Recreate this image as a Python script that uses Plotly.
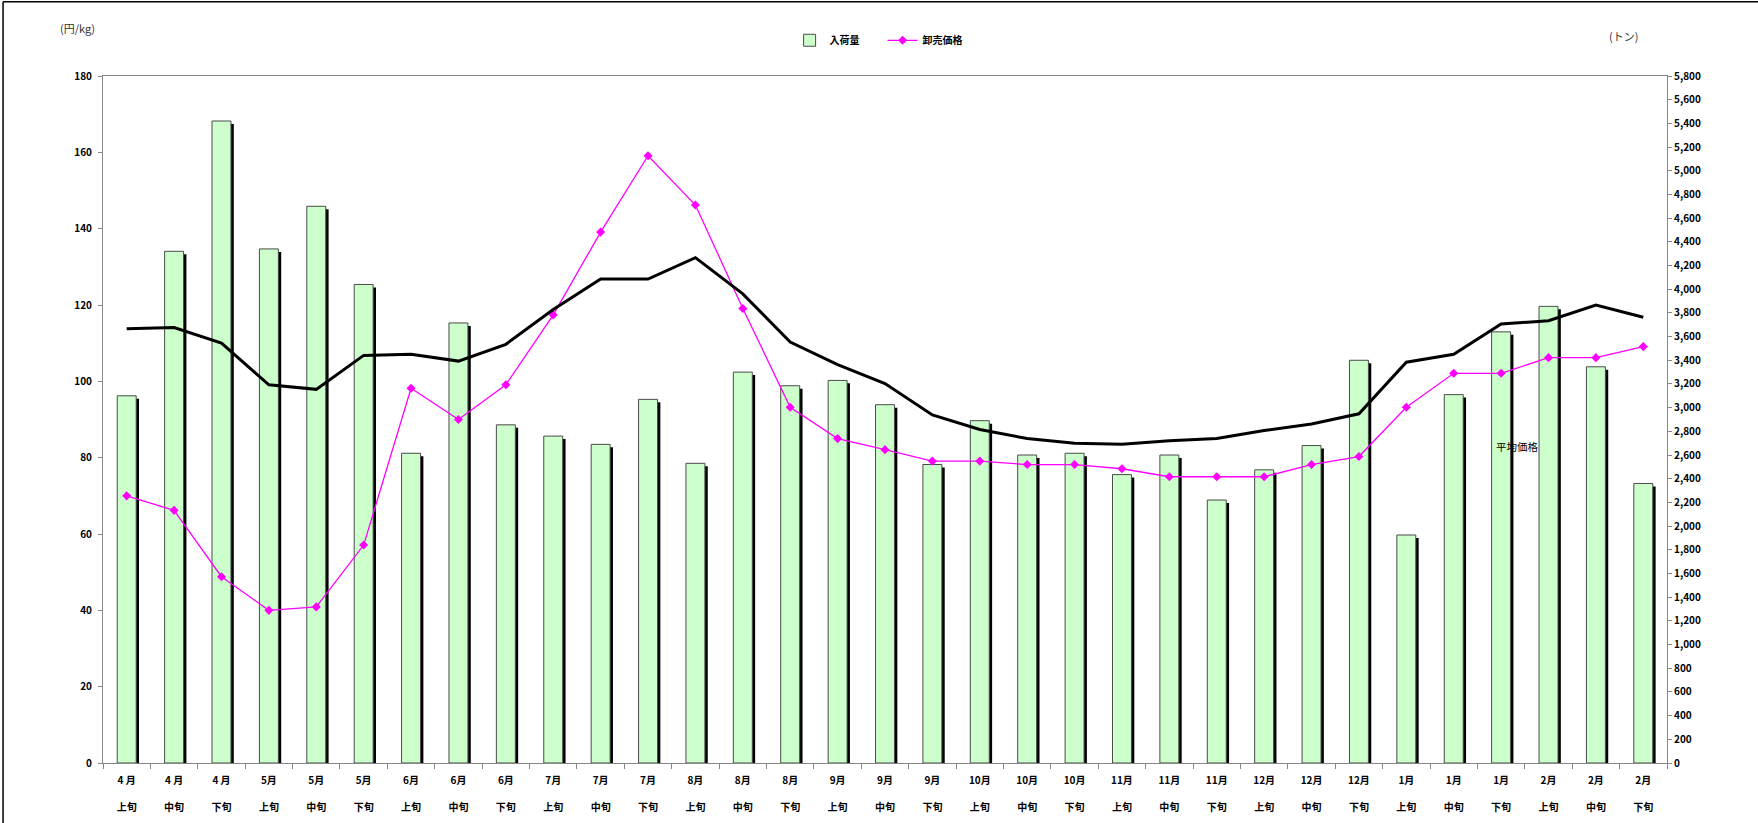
import plotly.graph_objects as go

months = ["4 月", "4 月", "4 月", "5月", "5月", "5月", "6月", "6月", "6月",
          "7月", "7月", "7月", "8月", "8月", "8月", "9月", "9月", "9月",
          "10月", "10月", "10月", "11月", "11月", "11月", "12月", "12月", "12月",
          "1月", "1月", "1月", "2月", "2月", "2月"]
periods = ["上旬", "中旬", "下旬"] * 11
categories = [f"{m.replace(' ', '')}{p}" for m, p in zip(months, periods)]

# 入荷量 (トン)
arrivals = [3100, 4320, 5420, 4340, 4700, 4040, 2615, 3715, 2855,
            2760, 2690, 3070, 2530, 3300, 3185, 3230, 3025, 2520,
            2890, 2600, 2615, 2435, 2600, 2220, 2475, 2680, 3400,
            1925, 3110, 3640, 3855, 3345, 2360]
# 卸売価格 (円/kg)
wholesale = [70.0, 66.2, 48.8, 40.0, 40.9, 57.1, 98.2, 90.0, 99.1,
             117.4, 139.1, 159.1, 146.2, 119.1, 93.2, 85.0, 82.1, 79.1,
             79.1, 78.2, 78.2, 77.1, 75.0, 75.0, 75.0, 78.2, 80.3,
             93.2, 102.1, 102.1, 106.2, 106.2, 109.1]
# 平均価格 (円/kg)
average = [113.8, 114.1, 110.0, 99.1, 97.9, 106.8, 107.1, 105.3, 109.7,
           118.8, 126.8, 126.8, 132.4, 122.9, 110.3, 104.4, 99.4, 91.2,
           87.4, 85.0, 83.8, 83.5, 84.4, 85.0, 87.1, 88.8, 91.5,
           105.0, 107.1, 115.0, 115.9, 120.0, 116.8]

FONT = "Noto Sans CJK JP"
BAR_W = 0.40

fig = go.Figure()

# shadow of bars
fig.add_trace(go.Bar(
    x=categories, y=arrivals, base=-25, width=BAR_W, offset=-BAR_W / 2 + 0.06,
    marker=dict(color="#000000", line=dict(width=0)),
    showlegend=False, hoverinfo="skip", xaxis="x", yaxis="y"))
# bars
fig.add_trace(go.Bar(
    x=categories, y=arrivals, width=BAR_W, offset=-BAR_W / 2, name="入荷量",
    marker=dict(color="#CCFFCC", line=dict(color="#4a4a4a", width=1)),
    xaxis="x", yaxis="y"))
# wholesale price
fig.add_trace(go.Scatter(
    x=categories, y=wholesale, name="卸売価格", mode="lines+markers",
    line=dict(color="#FF00FF", width=1.3),
    marker=dict(symbol="diamond", size=7, color="#FF00FF"),
    xaxis="x2", yaxis="y2"))
# average price
fig.add_trace(go.Scatter(
    x=categories, y=average, name="平均価格", mode="lines",
    line=dict(color="#000000", width=3), showlegend=False,
    xaxis="x2", yaxis="y2"))

tick_font = dict(family=FONT, size=10, color="#000000", weight="bold")
ytick_font = dict(family=FONT, size=10, color="#000000", weight="bold")

fig.update_layout(
    width=1758, height=823,
    margin=dict(l=103, r=91, t=76, b=60, autoexpand=False),
    paper_bgcolor="white", plot_bgcolor="white",
    barmode="overlay",
    font=dict(family=FONT, color="#000000"),
    xaxis=dict(
        type="category", categoryorder="array", categoryarray=categories,
        range=[-0.5, 32.5], automargin=False,
        tickmode="array", tickvals=categories, ticktext=months,
        tickson="boundaries", ticks="outside", ticklen=5, tickcolor="#868686",
        showline=True, linecolor="#868686", linewidth=1, mirror=True,
        showgrid=False, tickfont=tick_font, ticklabelstandoff=8,
        tickangle=0),
    xaxis2=dict(
        type="category", categoryorder="array", categoryarray=categories,
        range=[-0.5, 32.5], overlaying="x", side="bottom", anchor="y",
        automargin=False,
        tickmode="array", tickvals=categories, ticktext=periods,
        ticks="", showline=False, showgrid=False, tickfont=tick_font,
        ticklabelstandoff=37, tickangle=0),
    yaxis=dict(
        side="right", range=[0, 5800], dtick=200, tickformat=",",
        automargin=False,
        ticks="outside", ticklen=4, tickcolor="#868686",
        showline=True, linecolor="#868686", linewidth=1,
        showgrid=False, zeroline=False, tickfont=ytick_font),
    yaxis2=dict(
        overlaying="y", side="left", range=[0, 180], dtick=20,
        automargin=False,
        ticks="outside", ticklen=4, tickcolor="#868686",
        showline=True, linecolor="#868686", linewidth=1,
        showgrid=False, zeroline=False, tickfont=ytick_font,
        ticklabelstandoff=4),
    legend=dict(
        orientation="h", x=0.439, xanchor="left", y=1.052, yanchor="middle",
        font=dict(family=FONT, size=10, color="#000000", weight="bold"),
        bgcolor="rgba(0,0,0,0)", itemwidth=30, entrywidth=48,
        entrywidthmode="pixels", tracegroupgap=0),
    showlegend=True,
)

fig.add_annotation(text="平均価格", x=29.34, y=82.8, xref="x2", yref="y2",
                   xanchor="center", yanchor="middle",
                   showarrow=False, font=dict(family=FONT, size=10.5, color="#000000"))
fig.add_annotation(text="(円/kg)", x=-0.0166, y=1.07, xref="paper", yref="paper",
                   xanchor="center", yanchor="middle",
                   showarrow=False, font=dict(family=FONT, size=11, color="#333333"))
fig.add_annotation(text="(トン)", x=0.9725, y=1.058, xref="paper", yref="paper",
                   xanchor="center", yanchor="middle",
                   showarrow=False, font=dict(family=FONT, size=11, color="#333333"))

# outer frame (top and left edges)
fig.add_shape(type="line", xref="paper", yref="paper", x0=-0.0639, x1=1.2, y0=1.1079, y1=1.1079,
              line=dict(color="#000000", width=1.5))
fig.add_shape(type="line", xref="paper", yref="paper", x0=-0.0639, x1=-0.0639, y0=-0.2, y1=1.1079,
              line=dict(color="#000000", width=1.5))

fig.write_html("out.html", post_script="document.body.style.margin='0';",
               config={"displayModeBar": False})
